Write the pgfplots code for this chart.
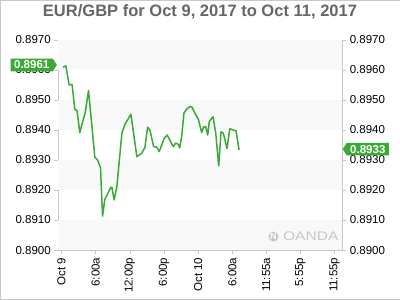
\documentclass[border=0pt]{standalone}
\usepackage{pgfplots}
\pgfplotsset{compat=1.18}
\usepackage{fontspec}
\setmainfont{Liberation Sans}
\usetikzlibrary{shapes.symbols}
\definecolor{lgreen}{RGB}{57,170,53}
\definecolor{axisgray}{RGB}{200,200,200}
\definecolor{band}{RGB}{248,248,248}
\definecolor{titlegray}{RGB}{102,102,102}
\tikzset{
  vlabel/.style={signal, signal pointer angle=115, fill=lgreen, text=white,
    font=\bfseries\fontsize{11.5}{12}\selectfont, inner xsep=3.5pt, inner ysep=1.5pt, minimum height=12.5pt}
}
\begin{document}
\begin{tikzpicture}
\draw[axisgray] (0.5pt,0.5pt) rectangle (399.5pt,299.5pt);
\node[font=\bfseries\fontsize{16.5}{17}\selectfont, text=titlegray] at (200pt,287.5pt) {EUR/GBP for Oct 9, 2017 to Oct 11, 2017};
\pgfplotsset{
  common/.style={
    at={(58.5pt,50pt)}, anchor=south west,
    width=283.5pt, height=210pt, scale only axis,
    xmin=-0.56, xmax=49.26, ymin=0.8900, ymax=0.8970,
    ytick={0.8900,0.8910,0.8920,0.8930,0.8940,0.8950,0.8960,0.8970},
    scaled y ticks=false,
    yticklabel style={/pgf/number format/.cd, fixed, fixed zerofill, precision=4, assume math mode=true},
    tick label style={font=\fontsize{11.5}{12}\selectfont},
    axis line style={draw=axisgray},
    tick style={draw=axisgray, thin},
    major tick length=4pt,
    tick align=outside,
  }
}
\begin{axis}[common,
  xtick={0,6,12,18,24,30,35.917,41.917,47.917},
  xticklabels={Oct 9,6:00a,12:00p,6:00p,Oct 10,6:00a,11:55a,5:55p,11:55p},
  xticklabel style={rotate=90, anchor=east},
  xtick pos=bottom, ytick pos=left,
  clip=false,
]
\fill[band] (axis cs:-0.56,0.8960) rectangle (axis cs:49.26,0.8970);
\fill[band] (axis cs:-0.56,0.8940) rectangle (axis cs:49.26,0.8950);
\fill[band] (axis cs:-0.56,0.8920) rectangle (axis cs:49.26,0.8930);
\fill[band] (axis cs:-0.56,0.8900) rectangle (axis cs:49.26,0.8910);
\node[text=black!22, font=\fontsize{12.5}{13}\selectfont, xscale=1.25, anchor=west] at (axis cs:38.1,0.89045) {OANDA};
\fill[black!22] (axis cs:37.2,0.89045) circle (5pt);
\node[text=white, font=\bfseries\fontsize{9}{9}\selectfont] at (axis cs:37.2,0.89045) {N};
\addplot[lgreen, line width=1.5pt, line join=round] table {
0.28 0.89609
0.76 0.89613
1.34 0.89550
1.86 0.89551
2.34 0.89469
2.74 0.89463
3.22 0.89391
3.57 0.89417
4.15 0.89456
4.75 0.89531
5.85 0.89309
6.33 0.89300
6.85 0.89274
7.21 0.89113
7.61 0.89169
8.66 0.89209
8.84 0.89209
9.24 0.89167
9.72 0.89211
10.60 0.89389
11.18 0.89420
12.18 0.89452
13.23 0.89311
14.06 0.89322
14.64 0.89341
15.11 0.89409
15.52 0.89400
16.17 0.89344
16.70 0.89343
17.15 0.89328
18.03 0.89372
18.56 0.89383
19.61 0.89344
20.04 0.89356
20.49 0.89352
20.74 0.89340
21.09 0.89378
21.49 0.89456
21.97 0.89469
22.55 0.89478
22.90 0.89476
23.48 0.89453
24.01 0.89436
24.60 0.89391
24.89 0.89409
25.31 0.89411
25.66 0.89383
25.94 0.89428
26.59 0.89444
27.07 0.89389
27.59 0.89280
28.00 0.89394
28.40 0.89389
29.05 0.89338
29.53 0.89404
30.05 0.89400
30.63 0.89397
31.16 0.89333
};
\end{axis}
\begin{axis}[common,
  axis x line=none, axis y line*=right,
  ytick pos=right, yticklabel pos=right,
  clip=false,
]
\node[vlabel, signal to=east, anchor=east] at (axis cs:-0.77,0.89616) {0.8961};
\node[vlabel, signal to=west, anchor=west] at (axis cs:49.31,0.89336) {0.8933};
\end{axis}
\end{tikzpicture}
\end{document}
